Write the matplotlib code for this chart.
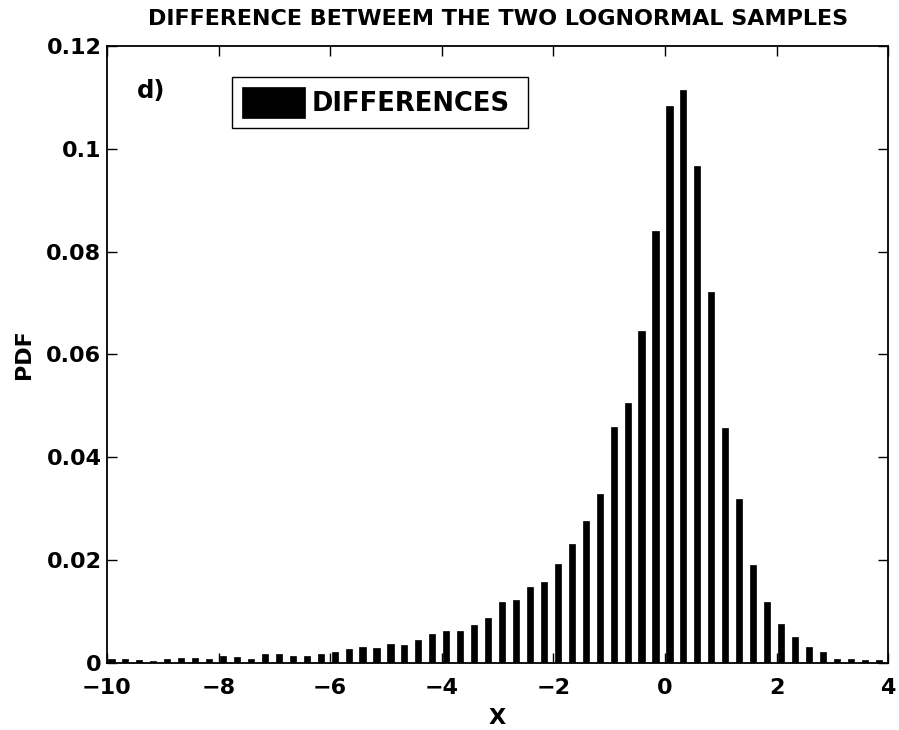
import numpy as np
import matplotlib
matplotlib.use('Agg')
from matplotlib import pyplot as plt

# bin centres of the histogram (step 0.25, starting near -9.92)
first_center = -9.92
bin_step = 0.25

# PDF values, one per bin, left to right
pdf_values = [0.00065, 0.00078, 0.00058, 0.00045, 0.00084, 0.0010, 0.00097, 0.00078,
              0.0014, 0.00117, 0.00084, 0.00168, 0.00168, 0.0014, 0.00125, 0.00165,
              0.00215, 0.0027, 0.0030, 0.0029, 0.0037, 0.0035, 0.0045, 0.0056,
              0.0062, 0.0062, 0.0074, 0.0087, 0.0118, 0.0122, 0.0147, 0.0157,
              0.0193, 0.0231, 0.0276, 0.0328, 0.0458, 0.0505, 0.0646, 0.0841,
              0.1083, 0.1115, 0.0966, 0.0722, 0.0456, 0.0319, 0.0191, 0.0119,
              0.0075, 0.0051, 0.0031, 0.0022, 0.0008, 0.0008, 0.0005, 0.0005]

x_ticks = [-10, -8, -6, -4, -2, 0, 2, 4]
y_ticks = [0, 0.02, 0.04, 0.06, 0.08, 0.1, 0.12]
y_tick_labels = ['0', '0.02', '0.04', '0.06', '0.08', '0.1', '0.12']

centers = first_center + bin_step * np.arange(len(pdf_values))

plt.rcParams['font.family'] = ['DejaVu Sans']
plt.rcParams['font.weight'] = 'bold'

fig = plt.figure(figsize=(8.99, 7.30), dpi=100)
ax = fig.add_axes([0.119, 0.092, 0.869, 0.845])

ax.bar(centers, pdf_values, width=0.11, color='black', edgecolor='black',
       linewidth=0.5, label='DIFFERENCES')

ax.set_xlim(-10, 4)
ax.set_ylim(0, 0.12)
ax.set_xticks(x_ticks)
ax.set_yticks(y_ticks)
ax.set_yticklabels(y_tick_labels)

ax.tick_params(direction='in', length=7, width=1, top=True, right=True,
               labelsize=16)
ax.tick_params(axis='x', pad=11)
ax.tick_params(axis='y', pad=4)
for lab in ax.get_xticklabels() + ax.get_yticklabels():
    lab.set_fontweight('bold')
for sp in ax.spines.values():
    sp.set_linewidth(1.3)

ax.set_title('DIFFERENCE BETWEEM THE TWO LOGNORMAL SAMPLES', fontsize=16,
             fontweight='bold', pad=15)
ax.set_xlabel('X', fontsize=16, fontweight='bold', labelpad=7)
ax.set_ylabel('PDF', fontsize=16, fontweight='bold', labelpad=9)

ax.text(-9.46, 0.1099, 'd)', fontsize=17.5, fontweight='bold', va='baseline')

# legend box stretched to the width seen in the reference
leg = ax.legend(loc='upper left', bbox_to_anchor=(0.160, 0.85, 0.379, 0.10),
                mode='expand', fontsize=18.5,
                fancybox=False, framealpha=1, edgecolor='black',
                handlelength=2.45, handleheight=1.45, borderpad=0.4,
                handletextpad=0.25, borderaxespad=0)
leg.get_frame().set_linewidth(1.0)
for t in leg.get_texts():
    t.set_fontweight('bold')

fig.savefig('out.png', dpi=100)
